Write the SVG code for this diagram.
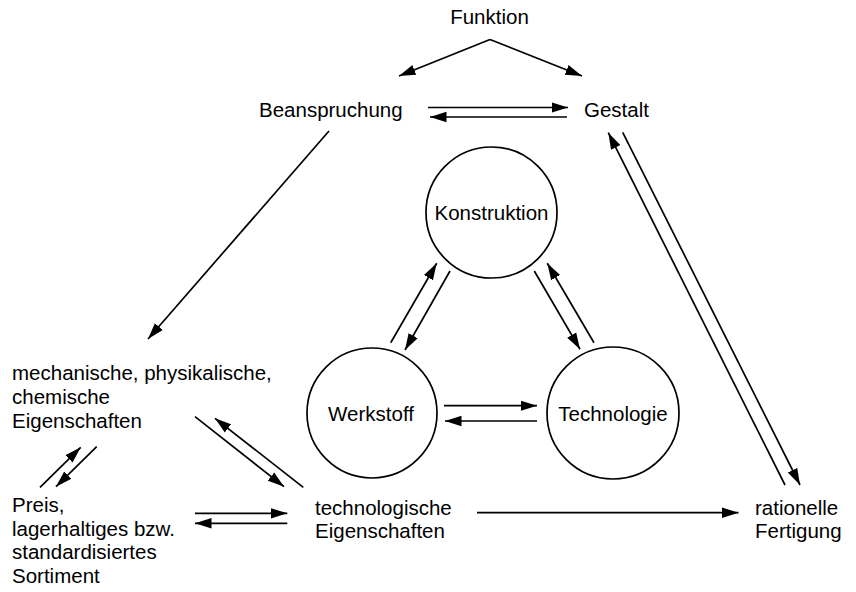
<svg xmlns="http://www.w3.org/2000/svg" width="856" height="592" viewBox="0 0 856 592">
  <defs>
    <marker id="ah" markerUnits="userSpaceOnUse" markerWidth="18" markerHeight="12" refX="16.5" refY="6" orient="auto">
      <path d="M0,0.8 L16.5,6 L0,11.2 z" fill="#000"/>
    </marker>
  </defs>
  <style>
    text { font-family: "Liberation Sans", Arial, sans-serif; font-size: 20.5px; fill: #000; }
    .c { text-anchor: middle; }
    circle { fill: none; stroke: #000; stroke-width: 1.7; }
    .e line { stroke: #000; stroke-width: 1.7; fill: none; marker-end: url(#ah); }
  </style>
  <rect width="856" height="592" fill="#fff"/>

  <g id="funktion"><text class="c" x="489.5" y="24">Funktion</text></g>
  <g id="beanspruchung"><text x="259" y="117">Beanspruchung</text></g>
  <g id="gestalt"><text x="584" y="117">Gestalt</text></g>
  <g id="konstruktion">
    <circle cx="491.5" cy="212.5" r="65.5"/>
    <text class="c" x="491.5" y="220">Konstruktion</text>
  </g>
  <g id="werkstoff">
    <circle cx="372" cy="413" r="65"/>
    <text class="c" x="371" y="420.5">Werkstoff</text>
  </g>
  <g id="technologie">
    <circle cx="613" cy="413" r="66"/>
    <text class="c" x="613" y="420.5">Technologie</text>
  </g>
  <g id="eigenschaften">
    <text x="12" y="380">mechanische, physikalische,</text>
    <text x="12" y="404">chemische</text>
    <text x="12" y="428">Eigenschaften</text>
  </g>
  <g id="preis">
    <text x="12" y="512">Preis,</text>
    <text x="12" y="535.5">lagerhaltiges bzw.</text>
    <text x="12" y="559">standardisiertes</text>
    <text x="12" y="582.5">Sortiment</text>
  </g>
  <g id="technologische">
    <text x="315" y="515">technologische</text>
    <text x="315" y="538">Eigenschaften</text>
  </g>
  <g id="rationelle">
    <text x="755" y="514.5">rationelle</text>
    <text x="755" y="537.5">Fertigung</text>
  </g>

  <g id="connectors" class="e">
    <line x1="490" y1="39.5" x2="399" y2="76"/>
    <line x1="490" y1="39.5" x2="582" y2="76"/>
    <line x1="428" y1="107.5" x2="568" y2="107.5"/>
    <line x1="567" y1="117" x2="430" y2="117"/>
    <line x1="329" y1="131" x2="148" y2="339"/>
    <line x1="390.7" y1="342.7" x2="436.7" y2="263.3"/>
    <line x1="450" y1="271" x2="405" y2="350"/>
    <line x1="534.3" y1="271" x2="580" y2="349.3"/>
    <line x1="594" y1="342.7" x2="547.3" y2="263.3"/>
    <line x1="444" y1="405.7" x2="537" y2="405.7"/>
    <line x1="537" y1="421" x2="445" y2="421"/>
    <line x1="785" y1="485" x2="608.3" y2="132.7"/>
    <line x1="622.7" y1="132.3" x2="800" y2="485"/>
    <line x1="477" y1="512.7" x2="738.5" y2="512.7"/>
    <line x1="195" y1="416.7" x2="284" y2="486.7"/>
    <line x1="303.3" y1="487.3" x2="215" y2="418.3"/>
    <line x1="40" y1="487.3" x2="80.7" y2="447.3"/>
    <line x1="96.7" y1="446.7" x2="56" y2="486.7"/>
    <line x1="195" y1="513.3" x2="287.3" y2="513.3"/>
    <line x1="287.3" y1="523.3" x2="195" y2="523.3"/>
  </g>
</svg>
